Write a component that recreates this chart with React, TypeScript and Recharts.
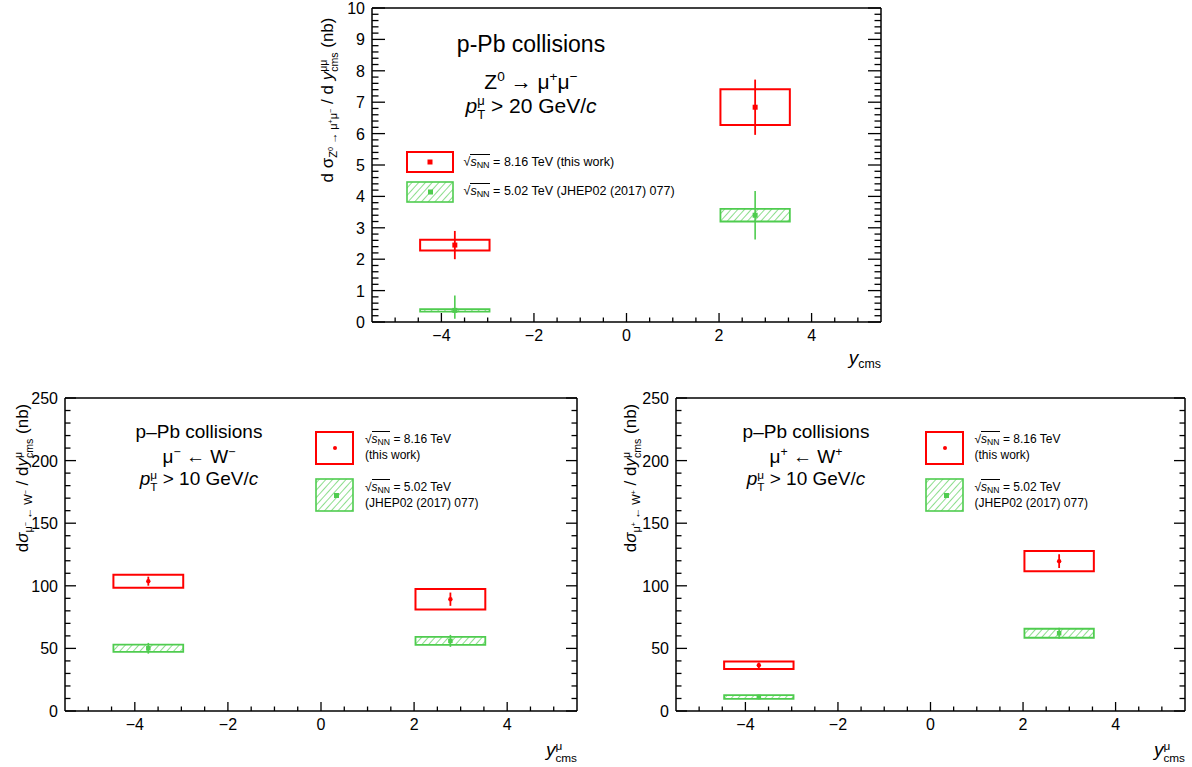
import React from 'react';
import { ComposedChart, Scatter, XAxis, YAxis, ErrorBar, ReferenceArea, Legend } from 'recharts';

const FONT = '"Liberation Sans", Arial, Helvetica, sans-serif';
const RED = '#ff0000';
const GREEN = '#4fcc4f';

// ---------- data ----------
// rapidity bins (centre-of-mass)
const binLow = [-4.46, 2.03];
const binHigh = [-2.96, 3.53];
const binCenter = [-3.71, 2.78];

// Z0 -> mu+ mu-  (nb)
const zVal816 = [2.45, 6.84];
const zStat816 = [0.45, 0.88];
const zSyst816 = [0.17, 0.57];
const zVal502 = [0.37, 3.4];
const zStat502: [number, number][] = [[0.27, 0.47], [0.77, 0.77]];
const zSyst502 = [0.04, 0.2];

// mu- <- W-  (nb)
const wmVal816 = [103.7, 89.3];
const wmStat816 = [3.6, 5.3];
const wmSyst816 = [5.2, 8.2];
const wmVal502 = [50.1, 56.0];
const wmStat502 = [4.3, 4.8];
const wmSyst502 = [2.9, 3.2];

// mu+ <- W+  (nb)
const wpVal816 = [36.5, 119.7];
const wpStat816 = [2.2, 5.5];
const wpSyst816 = [3.0, 8.0];
const wpVal502 = [11.2, 62.1];
const wpStat502 = [1.8, 4.4];
const wpSyst502 = [1.5, 3.6];

// axes
const xDomain: [number, number] = [-5.5, 5.5];
const xMajorTicks = [-4, -2, 0, 2, 4];
const xAllTicks = [-5, -4.5, -4, -3.5, -3, -2.5, -2, -1.5, -1, -0.5, 0, 0.5, 1, 1.5, 2, 2.5, 3, 3.5, 4, 4.5, 5];
const zYDomain: [number, number] = [0, 10];
const zYMajorTicks = [0, 1, 2, 3, 4, 5, 6, 7, 8, 9, 10];
const wYDomain: [number, number] = [0, 250];
const wYMajorTicks = [0, 50, 100, 150, 200, 250];

const steps = (a: number, b: number, s: number) => {
  const out: number[] = [];
  const n = Math.round((b - a) / s);
  for (let i = 0; i <= n; i++) out.push(Math.round((a + i * s) * 1e6) / 1e6);
  return out;
};
const zYAllTicks = steps(0, 10, 0.2);
const wYAllTicks = steps(0, 250, 10);

// legend labels
const legend816 = ['= 8.16 TeV', '(this work)'];
const legend502 = ['= 5.02 TeV', '(JHEP02 (2017) 077)'];

// ---------- helpers ----------
const near = (a: number, b: number) => Math.abs(a - b) < 1e-6;
const fmt = (v: number) => (v < 0 ? '\u2212' + Math.abs(v) : String(v));

function makeXTick(majors: number[], majorLen: number, minorLen: number, dir: 1 | -1, labels: boolean) {
  return (p: any) => {
    const v = p.payload.value;
    const major = majors.some((m) => near(m, v));
    const len = major ? majorLen : minorLen;
    return (
      <g>
        <line x1={p.x} x2={p.x} y1={p.y} y2={p.y + dir * len} stroke="#000" strokeWidth={1.3} />
        {labels && major && (
          <text x={p.x} y={p.y + 19} textAnchor="middle" fontSize={16} fontFamily={FONT} fill="#000">
            {fmt(v)}
          </text>
        )}
      </g>
    );
  };
}

function makeYTick(majors: number[], majorLen: number, minorLen: number, dir: 1 | -1, labels: boolean) {
  return (p: any) => {
    const v = p.payload.value;
    const major = majors.some((m) => near(m, v));
    const len = major ? majorLen : minorLen;
    return (
      <g>
        <line x1={p.x} x2={p.x + dir * len} y1={p.y} y2={p.y} stroke="#000" strokeWidth={1.3} />
        {labels && major && (
          <text x={p.x - 7} y={p.y + 6} textAnchor="end" fontSize={16} fontFamily={FONT} fill="#000">
            {fmt(v)}
          </text>
        )}
      </g>
    );
  };
}

const SqrtS = () => (
  <span style={{ whiteSpace: 'nowrap' }}>
    <span>{'\u221a'}</span>
    <span style={{ borderTop: '1px solid #000', lineHeight: 1 }}>
      <i>s</i>
      <span style={{ fontSize: '0.72em', verticalAlign: '-0.25em' }}>NN</span>
    </span>
  </span>
);

function SS({ sup, sub }: { sup: React.ReactNode; sub: React.ReactNode }) {
  return (
    <span style={{ display: 'inline-block', verticalAlign: '-0.5em', lineHeight: 1.05, fontSize: '0.62em', textAlign: 'left' }}>
      <span style={{ display: 'block' }}>{sup}</span>
      <span style={{ display: 'block' }}>{sub}</span>
    </span>
  );
}
const Sup = ({ children }: { children: React.ReactNode }) => (
  <span style={{ fontSize: '0.65em', verticalAlign: '0.55em', lineHeight: 0 }}>{children}</span>
);
const Sub = ({ children }: { children: React.ReactNode }) => (
  <span style={{ fontSize: '0.65em', verticalAlign: '-0.35em', lineHeight: 0 }}>{children}</span>
);

function Hatch({ id }: { id: string }) {
  return (
    <pattern id={id} patternUnits="userSpaceOnUse" width={5} height={5} patternTransform="rotate(42)">
      <line x1={0} y1={0} x2={0} y2={5} stroke={GREEN} strokeWidth={1.3} />
    </pattern>
  );
}

// ---------- legends ----------
function TopLegend() {
  return (
    <div style={{ position: 'relative', width: 290, height: 54, fontFamily: FONT, fontSize: 12.5, color: '#000' }}>
      <svg style={{ position: 'absolute', left: 0, top: 0 }} width={50} height={54}>
        <defs>
          <Hatch id="hatchLegTop" />
        </defs>
        <rect x={1} y={1} width={46} height={20} fill="none" stroke={RED} strokeWidth={2} />
        <rect x={21.5} y={8.5} width={5} height={5} fill={RED} />
        <rect x={1} y={31} width={46} height={20} fill="url(#hatchLegTop)" stroke={GREEN} strokeWidth={1.6} />
        <rect x={22} y={38.5} width={5} height={5} fill={GREEN} />
      </svg>
      <div style={{ position: 'absolute', left: 58, top: 3, whiteSpace: 'nowrap', lineHeight: '16px' }}>
        <SqrtS /> {legend816[0]} {legend816[1]}
      </div>
      <div style={{ position: 'absolute', left: 58, top: 32, whiteSpace: 'nowrap', lineHeight: '16px' }}>
        <SqrtS /> {legend502[0]} {legend502[1]}
      </div>
    </div>
  );
}

function WLegend({ id }: { id: string }) {
  return (
    <div style={{ position: 'relative', width: 200, height: 84, fontFamily: FONT, fontSize: 12, color: '#000' }}>
      <svg style={{ position: 'absolute', left: 0, top: 0 }} width={42} height={84}>
        <defs>
          <Hatch id={id} />
        </defs>
        <rect x={1} y={1} width={37} height={32} fill="none" stroke={RED} strokeWidth={2} />
        <circle cx={20} cy={17} r={2} fill={RED} />
        <rect x={1} y={48} width={37} height={32} fill={`url(#${id})`} stroke={GREEN} strokeWidth={1.6} />
        <rect x={19} y={62} width={5} height={5} fill={GREEN} />
      </svg>
      <div style={{ position: 'absolute', left: 50, top: 1, whiteSpace: 'nowrap', lineHeight: '15.5px' }}>
        <div>
          <SqrtS /> {legend816[0]}
        </div>
        <div>{legend816[1]}</div>
      </div>
      <div style={{ position: 'absolute', left: 50, top: 49, whiteSpace: 'nowrap', lineHeight: '15.5px' }}>
        <div>
          <SqrtS /> {legend502[0]}
        </div>
        <div>{legend502[1]}</div>
      </div>
    </div>
  );
}

// ---------- panel ----------
type Series = { val: number[]; stat: (number | [number, number])[]; syst: number[] };

type PanelProps = {
  svgLeft: number;
  svgTop: number;
  width: number;
  height: number;
  plot: { l: number; r: number; t: number; b: number };
  yDomain: [number, number];
  yMajor: number[];
  yAll: number[];
  yMajorLen: number;
  yMinorLen: number;
  xMajorLen: number;
  xMinorLen: number;
  s816: Series;
  s502: Series;
  redShape: 'square' | 'circle';
  patternId: string;
  legend: React.ReactNode;
  legendPos: { left: number; top: number };
};

function Panel(p: PanelProps) {
  const LW = 50;
  const BH = 30;
  const TH = 2;
  const RW = 2;
  const margin = {
    left: p.plot.l - p.svgLeft - LW,
    right: p.svgLeft + p.width - p.plot.r - RW,
    top: p.plot.t - p.svgTop - TH,
    bottom: p.svgTop + p.height - p.plot.b - BH,
  };
  const d816 = binCenter.map((x, i) => ({ x, y: p.s816.val[i], stat: p.s816.stat[i] }));
  const d502 = binCenter.map((x, i) => ({ x, y: p.s502.val[i], stat: p.s502.stat[i] }));
  const redSize = p.redShape === 'square' ? 5 : 4.4;
  const greenSize = p.redShape === 'square' ? 5 : 4.5;

  const redShape = (sp: any) =>
    p.redShape === 'square' ? (
      <rect x={sp.cx - redSize / 2} y={sp.cy - redSize / 2} width={redSize} height={redSize} fill={RED} />
    ) : (
      <circle cx={sp.cx} cy={sp.cy} r={redSize / 2} fill={RED} />
    );
  const greenShape = (sp: any) => (
    <rect x={sp.cx - greenSize / 2} y={sp.cy - greenSize / 2} width={greenSize} height={greenSize} fill={GREEN} />
  );

  return (
    <div style={{ position: 'absolute', left: p.svgLeft, top: p.svgTop, width: p.width, height: p.height }}>
      <ComposedChart width={p.width} height={p.height} margin={margin}>
        <defs>
          <Hatch id={p.patternId} />
        </defs>
        <XAxis
          xAxisId="b"
          dataKey="x"
          type="number"
          scale="linear"
          domain={xDomain}
          allowDataOverflow
          ticks={xAllTicks}
          interval={0}
          height={BH}
          tickSize={0}
          tickMargin={0}
          tickLine={false}
          axisLine={{ stroke: '#000', strokeWidth: 1.5 }}
          tick={makeXTick(xMajorTicks, p.xMajorLen, p.xMinorLen, -1, true)}
        />
        <XAxis
          xAxisId="t"
          orientation="top"
          type="number"
          scale="linear"
          domain={xDomain}
          allowDataOverflow
          ticks={xAllTicks}
          interval={0}
          height={TH}
          tickSize={0}
          tickMargin={0}
          tickLine={false}
          axisLine={{ stroke: '#000', strokeWidth: 1.5 }}
          tick={makeXTick(xMajorTicks, p.xMajorLen, p.xMinorLen, 1, false)}
        />
        <YAxis
          yAxisId="l"
          dataKey="y"
          type="number"
          scale="linear"
          domain={p.yDomain}
          allowDataOverflow
          ticks={p.yAll}
          interval={0}
          width={LW}
          tickSize={0}
          tickMargin={0}
          tickLine={false}
          axisLine={{ stroke: '#000', strokeWidth: 1.5 }}
          tick={makeYTick(p.yMajor, p.yMajorLen, p.yMinorLen, 1, true)}
        />
        <YAxis
          yAxisId="r"
          orientation="right"
          type="number"
          scale="linear"
          domain={p.yDomain}
          allowDataOverflow
          ticks={p.yAll}
          interval={0}
          width={RW}
          tickSize={0}
          tickMargin={0}
          tickLine={false}
          axisLine={{ stroke: '#000', strokeWidth: 1.5 }}
          tick={makeYTick(p.yMajor, p.yMajorLen, p.yMinorLen, -1, false)}
        />
        {binCenter.map((_, i) => (
          <ReferenceArea
            key={'g' + i}
            xAxisId="b"
            yAxisId="l"
            x1={binLow[i]}
            x2={binHigh[i]}
            y1={p.s502.val[i] - p.s502.syst[i]}
            y2={p.s502.val[i] + p.s502.syst[i]}
            fill={`url(#${p.patternId})`}
            fillOpacity={1}
            stroke={GREEN}
            strokeWidth={1.8}
            ifOverflow="visible"
          />
        ))}
        {binCenter.map((_, i) => (
          <ReferenceArea
            key={'r' + i}
            xAxisId="b"
            yAxisId="l"
            x1={binLow[i]}
            x2={binHigh[i]}
            y1={p.s816.val[i] - p.s816.syst[i]}
            y2={p.s816.val[i] + p.s816.syst[i]}
            fill="none"
            fillOpacity={0}
            stroke={RED}
            strokeWidth={2}
            ifOverflow="visible"
          />
        ))}
        <Scatter
          name="5.02 TeV"
          xAxisId="b"
          yAxisId="l"
          data={d502}
          shape={greenShape}
          fill={GREEN}
          isAnimationActive={false}
        >
          <ErrorBar dataKey="stat" direction="y" width={0} stroke={GREEN} strokeWidth={1.6} isAnimationActive={false} />
        </Scatter>
        <Scatter
          name="8.16 TeV"
          xAxisId="b"
          yAxisId="l"
          data={d816}
          shape={redShape}
          fill={RED}
          isAnimationActive={false}
        >
          <ErrorBar dataKey="stat" direction="y" width={0} stroke={RED} strokeWidth={1.8} isAnimationActive={false} />
        </Scatter>
        <Legend
          layout="vertical"
          align="center"
          verticalAlign="middle"
          content={() => p.legend}
          wrapperStyle={{
            position: 'absolute',
            left: p.legendPos.left - p.svgLeft,
            top: p.legendPos.top - p.svgTop,
            width: 'auto',
            height: 'auto',
            margin: 0,
            padding: 0,
          }}
        />
      </ComposedChart>
    </div>
  );
}

const centered = (x: number, y: number, size: number, extra: React.CSSProperties = {}): React.CSSProperties => ({
  position: 'absolute',
  left: x,
  top: y,
  transform: 'translate(-50%, -50%)',
  fontFamily: FONT,
  fontSize: size,
  whiteSpace: 'nowrap',
  lineHeight: 1,
  color: '#000',
  ...extra,
});

const rotated = (x: number, y: number, size: number): React.CSSProperties => ({
  position: 'absolute',
  left: x,
  top: y,
  transform: 'translate(-50%, -50%) rotate(-90deg)',
  fontFamily: FONT,
  fontSize: size,
  whiteSpace: 'nowrap',
  lineHeight: 1.2,
  color: '#000',
});

export default function App() {
  return (
    <div style={{ position: 'absolute', left: 0, top: 0, width: 1192, height: 767, background: '#fff', overflow: 'hidden' }}>
      <Panel
        svgLeft={300}
        svgTop={0}
        width={600}
        height={370}
        plot={{ l: 372, r: 881, t: 8, b: 322 }}
        yDomain={zYDomain}
        yMajor={zYMajorTicks}
        yAll={zYAllTicks}
        yMajorLen={13}
        yMinorLen={6.5}
        xMajorLen={9}
        xMinorLen={4.5}
        s816={{ val: zVal816, stat: zStat816, syst: zSyst816 }}
        s502={{ val: zVal502, stat: zStat502, syst: zSyst502 }}
        redShape="square"
        patternId="hatchZ"
        legend={<TopLegend />}
        legendPos={{ left: 405.5, top: 150.7 }}
      />
      <Panel
        svgLeft={0}
        svgTop={380}
        width={600}
        height={387}
        plot={{ l: 65, r: 577, t: 398, b: 711 }}
        yDomain={wYDomain}
        yMajor={wYMajorTicks}
        yAll={wYAllTicks}
        yMajorLen={11}
        yMinorLen={5.5}
        xMajorLen={9}
        xMinorLen={4.5}
        s816={{ val: wmVal816, stat: wmStat816, syst: wmSyst816 }}
        s502={{ val: wmVal502, stat: wmStat502, syst: wmSyst502 }}
        redShape="circle"
        patternId="hatchWm"
        legend={<WLegend id="hatchLegWm" />}
        legendPos={{ left: 315, top: 431 }}
      />
      <Panel
        svgLeft={600}
        svgTop={380}
        width={592}
        height={387}
        plot={{ l: 676, r: 1185, t: 398, b: 711 }}
        yDomain={wYDomain}
        yMajor={wYMajorTicks}
        yAll={wYAllTicks}
        yMajorLen={11}
        yMinorLen={5.5}
        xMajorLen={9}
        xMinorLen={4.5}
        s816={{ val: wpVal816, stat: wpStat816, syst: wpSyst816 }}
        s502={{ val: wpVal502, stat: wpStat502, syst: wpSyst502 }}
        redShape="circle"
        patternId="hatchWp"
        legend={<WLegend id="hatchLegWp" />}
        legendPos={{ left: 924.5, top: 431 }}
      />

      {/* top annotations */}
      <div style={centered(531, 44, 23)}>p-Pb collisions</div>
      <div style={centered(531, 81, 21)}>
        Z<Sup>0</Sup> {'\u2192'} {'\u03bc'}
        <Sup>+</Sup>
        {'\u03bc'}
        <Sup>{'\u2212'}</Sup>
      </div>
      <div style={centered(531, 108, 21)}>
        <i>p</i>
        <SS sup={'\u03bc'} sub="T" /> &gt; 20 GeV/<i>c</i>
      </div>

      {/* bottom-left annotations */}
      <div style={centered(199, 431, 19)}>p{'\u2013'}Pb collisions</div>
      <div style={centered(199, 456, 19)}>
        {'\u03bc'}
        <Sup>{'\u2212'}</Sup> {'\u2190'} W<Sup>{'\u2212'}</Sup>
      </div>
      <div style={centered(199, 481, 19)}>
        <i>p</i>
        <SS sup={'\u03bc'} sub="T" /> &gt; 10 GeV/<i>c</i>
      </div>

      {/* bottom-right annotations */}
      <div style={centered(806, 431, 19)}>p{'\u2013'}Pb collisions</div>
      <div style={centered(806, 456, 19)}>
        {'\u03bc'}
        <Sup>+</Sup> {'\u2190'} W<Sup>+</Sup>
      </div>
      <div style={centered(806, 481, 19)}>
        <i>p</i>
        <SS sup={'\u03bc'} sub="T" /> &gt; 10 GeV/<i>c</i>
      </div>

      {/* axis titles */}
      <div style={rotated(329, 100, 17)}>
        d {'\u03c3'}
        <Sub>
          Z<Sup>0</Sup> {'\u2192'} {'\u03bc'}
          <Sup>+</Sup>
          {'\u03bc'}
          <Sup>{'\u2212'}</Sup>
        </Sub>{' '}
        / d <i>y</i>
        <SS sup={'\u03bc\u03bc'} sub="cms" /> (nb)
      </div>
      <div style={{ position: 'absolute', right: 1192 - 881, top: 348, fontFamily: FONT, fontSize: 19, whiteSpace: 'nowrap', lineHeight: 1 }}>
        <i>y</i>
        <Sub>cms</Sub>
      </div>

      <div style={rotated(24, 478, 17)}>
        d<i>{'\u03c3'}</i>
        <Sub>
          {'\u03bc'}
          <Sup>{'\u2212'}</Sup> {'\u2190'} W<Sup>{'\u2212'}</Sup>
        </Sub>{' '}
        / d<i>y</i>
        <SS sup={'\u03bc'} sub="cms" /> (nb)
      </div>
      <div style={{ position: 'absolute', right: 1192 - 577, top: 740, fontFamily: FONT, fontSize: 19, whiteSpace: 'nowrap', lineHeight: 1 }}>
        <i>y</i>
        <SS sup={'\u03bc'} sub="cms" />
      </div>

      <div style={rotated(632, 478, 17)}>
        d<i>{'\u03c3'}</i>
        <Sub>
          {'\u03bc'}
          <Sup>+</Sup> {'\u2190'} W<Sup>+</Sup>
        </Sub>{' '}
        / d<i>y</i>
        <SS sup={'\u03bc'} sub="cms" /> (nb)
      </div>
      <div style={{ position: 'absolute', right: 1192 - 1185, top: 740, fontFamily: FONT, fontSize: 19, whiteSpace: 'nowrap', lineHeight: 1 }}>
        <i>y</i>
        <SS sup={'\u03bc'} sub="cms" />
      </div>
    </div>
  );
}
